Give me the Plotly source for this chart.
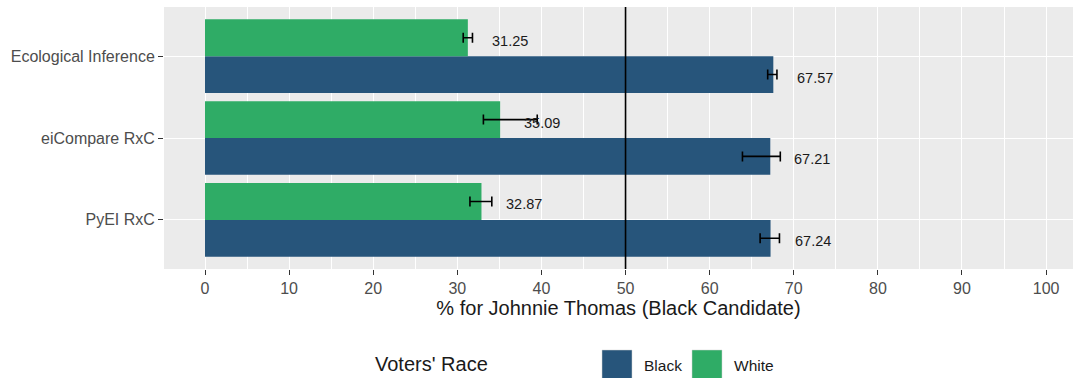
import plotly.graph_objects as go

methods = ["Ecological Inference", "eiCompare RxC", "PyEI RxC"]
black_vals = [67.57, 67.21, 67.24]
black_lo = [66.9, 63.9, 66.0]
black_hi = [68.0, 68.4, 68.3]
white_vals = [31.25, 35.09, 32.87]
white_lo = [30.7, 33.1, 31.5]
white_hi = [31.8, 39.5, 34.1]
x_ticks = [0, 10, 20, 30, 40, 50, 60, 70, 80, 90, 100]
threshold = 50

BLUE = "#27557B"
GREEN = "#2FAC66"
FONT = "Liberation Sans, Arial, sans-serif"

W, H = 1073, 378
ML, MR, MT, MB = 164, 0, 7, 109
PW, PH = W - ML - MR, H - MT - MB


def px2paper_x(px):
    return (px - ML) / PW


def px2paper_y(py):
    return 1 - (py - MT) / PH


fig = go.Figure()
fig.add_trace(go.Bar(
    y=methods, x=black_vals, orientation="h", name="Black",
    marker=dict(color=BLUE, line=dict(width=0)),
    error_x=dict(type="data", symmetric=False,
                 array=[h - v for h, v in zip(black_hi, black_vals)],
                 arrayminus=[v - l for l, v in zip(black_lo, black_vals)],
                 color="black", thickness=1.6, width=5),
    showlegend=False,
))
fig.add_trace(go.Bar(
    y=methods, x=white_vals, orientation="h", name="White",
    marker=dict(color=GREEN, line=dict(width=0)),
    error_x=dict(type="data", symmetric=False,
                 array=[h - v for h, v in zip(white_hi, white_vals)],
                 arrayminus=[v - l for l, v in zip(white_lo, white_vals)],
                 color="black", thickness=1.6, width=5),
    showlegend=False,
))

cat_px = PH / 3.2
for m, bv, wv in zip(methods, black_vals, white_vals):
    fig.add_annotation(x=bv + 5, y=m, text=f"{bv:.2f}", showarrow=False,
                       xanchor="center", yanchor="middle",
                       yshift=-0.225 * cat_px - 3,
                       font=dict(family=FONT, size=14.5, color="#1a1a1a"))
    fig.add_annotation(x=wv + 5, y=m, text=f"{wv:.2f}", showarrow=False,
                       xanchor="center", yanchor="middle",
                       yshift=0.225 * cat_px - 3,
                       font=dict(family=FONT, size=14.5, color="#1a1a1a"))

fig.add_shape(type="line", x0=threshold, x1=threshold, y0=0, y1=1,
              xref="x", yref="paper", line=dict(color="black", width=1.6))

# manual legend
fig.add_annotation(xref="paper", yref="paper", x=px2paper_x(490), y=px2paper_y(364),
                   text="Voters' Race", showarrow=False, xanchor="right", yanchor="middle",
                   font=dict(family=FONT, size=20, color="#1a1a1a"))
for name, col, kx in [("Black", BLUE, 602), ("White", GREEN, 692)]:
    fig.add_shape(type="rect", xref="paper", yref="paper",
                  x0=px2paper_x(kx), x1=px2paper_x(kx + 30),
                  y0=px2paper_y(380), y1=px2paper_y(350),
                  fillcolor=col, line=dict(color="#d0d0d0", width=0.5))
    fig.add_annotation(xref="paper", yref="paper", x=px2paper_x(kx + 40), y=px2paper_y(365),
                       text=name, showarrow=False, xanchor="left", yanchor="middle",
                       font=dict(family=FONT, size=15.5, color="#1a1a1a"))

fig.update_layout(
    width=W, height=H,
    margin=dict(l=ML, r=MR, t=MT, b=MB),
    barmode="group", bargap=0.1, bargroupgap=0,
    plot_bgcolor="#EBEBEB", paper_bgcolor="white",
    font=dict(family=FONT),
    hovermode=False,
    xaxis=dict(
        range=[-4.875, 103.2], tickvals=x_ticks, ticktext=[str(t) for t in x_ticks],
        showgrid=True, gridcolor="white", gridwidth=1.2,
        minor=dict(dtick=5, tick0=0, showgrid=True, gridcolor="white", gridwidth=0.5),
        zeroline=False, ticks="outside", ticklen=5, tickwidth=1.2, tickcolor="#333333",
        tickfont=dict(family=FONT, size=16, color="#4d4d4d"),
        title=dict(text="% for Johnnie Thomas (Black Candidate)", standoff=4,
                   font=dict(family=FONT, size=20, color="#1a1a1a")),
    ),
    yaxis=dict(
        categoryorder="array", categoryarray=methods[::-1], range=[-0.6, 2.6],
        showgrid=True, gridcolor="white", gridwidth=1.2, zeroline=False,
        ticks="outside", ticklen=5, tickwidth=1.2, tickcolor="#333333",
        tickfont=dict(family=FONT, size=16, color="#4d4d4d"),
    ),
)

fig.write_html("out.html", config={"displayModeBar": False},
               post_script="document.body.style.margin='0';document.body.style.overflow='hidden';")
